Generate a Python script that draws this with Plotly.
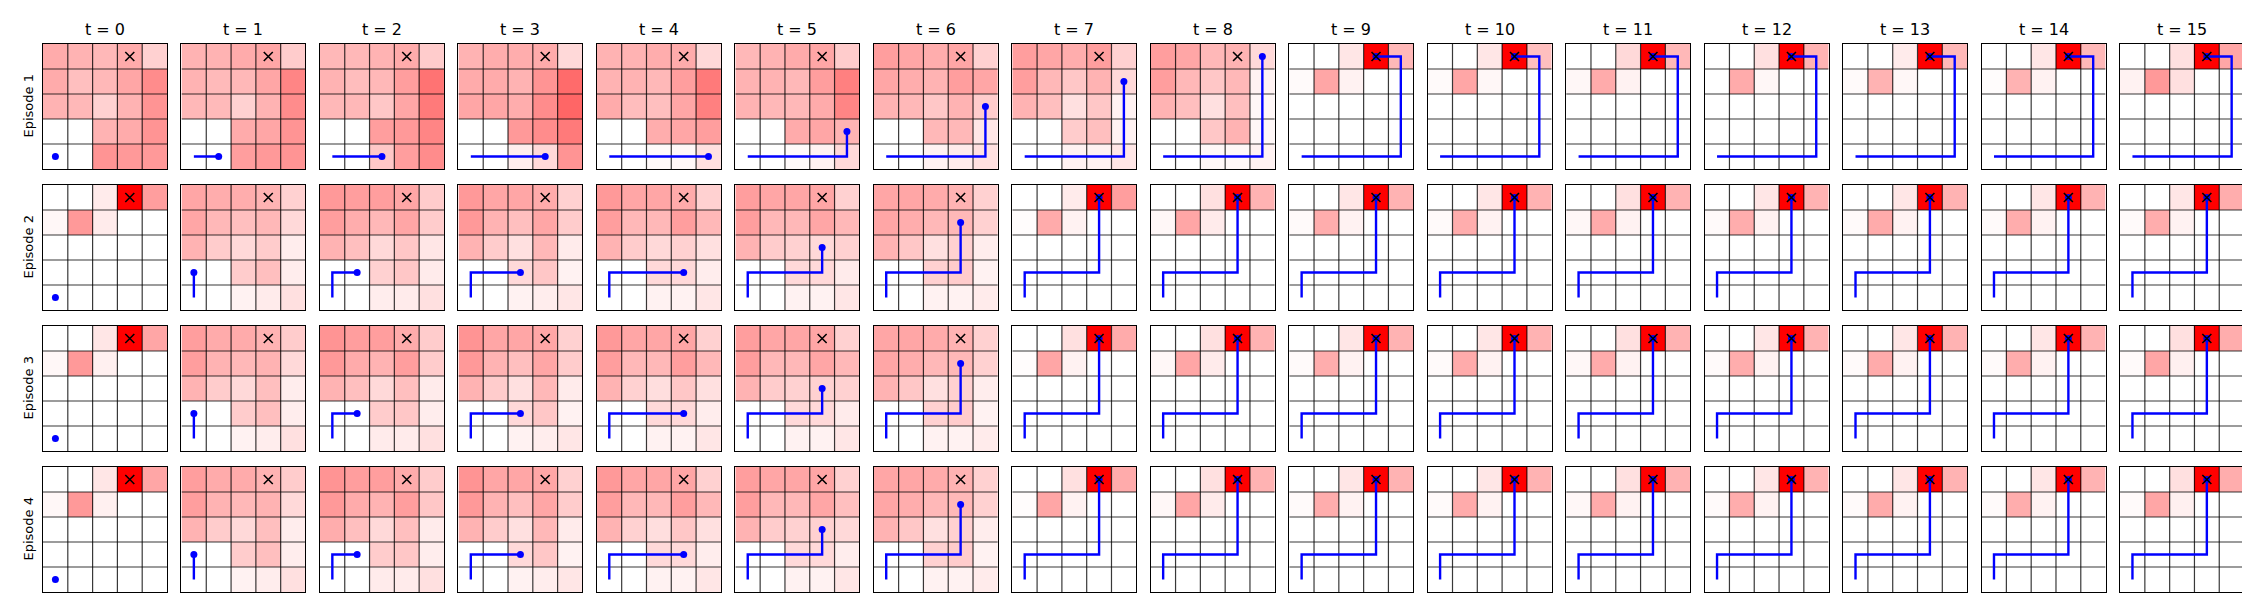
import plotly.graph_objects as go

# ---------------- data ----------------
TITLES = [f"t = {t}" for t in range(16)]
ROW_LABELS = ["Episode 1", "Episode 2", "Episode 3", "Episode 4"]
GOAL_COL, GOAL_ROW = 3, 0

# agent positions (column, row from top) at each time step
EP1_COLS = [0, 1, 2, 3, 4, 4, 4, 4, 4, 3, 3, 3, 3, 3, 3, 3]
EP1_ROWS = [4, 4, 4, 4, 4, 3, 2, 1, 0, 0, 0, 0, 0, 0, 0, 0]
EP2_COLS = [0, 0, 1, 2, 3, 3, 3, 3, 3, 3, 3, 3, 3, 3, 3, 3]
EP2_ROWS = [4, 3, 3, 3, 3, 2, 1, 0, 0, 0, 0, 0, 0, 0, 0, 0]
EP3_COLS = [0, 0, 1, 2, 3, 3, 3, 3, 3, 3, 3, 3, 3, 3, 3, 3]
EP3_ROWS = [4, 3, 3, 3, 3, 2, 1, 0, 0, 0, 0, 0, 0, 0, 0, 0]
EP4_COLS = [0, 0, 1, 2, 3, 3, 3, 3, 3, 3, 3, 3, 3, 3, 3, 3]
EP4_ROWS = [4, 3, 3, 3, 3, 2, 1, 0, 0, 0, 0, 0, 0, 0, 0, 0]

EP1_HEAT = [
    [[0.33, 0.30, 0.28, 0.33, 0.18], [0.33, 0.25, 0.28, 0.35, 0.45], [0.30, 0.28, 0.18, 0.30, 0.42], [0, 0, 0.30, 0.33, 0.42], [0, 0, 0.42, 0.40, 0.40]],
    [[0.30, 0.30, 0.33, 0.35, 0.20], [0.30, 0.27, 0.28, 0.35, 0.48], [0.28, 0.27, 0.18, 0.30, 0.45], [0, 0, 0.33, 0.35, 0.42], [0, 0, 0.38, 0.40, 0.42]],
    [[0.28, 0.28, 0.30, 0.33, 0.20], [0.30, 0.26, 0.28, 0.38, 0.55], [0.28, 0.28, 0.22, 0.35, 0.52], [0, 0, 0.38, 0.40, 0.48], [0, 0, 0.22, 0.38, 0.45]],
    [[0.30, 0.32, 0.32, 0.33, 0.15], [0.33, 0.33, 0.30, 0.42, 0.58], [0.35, 0.35, 0.32, 0.45, 0.60], [0, 0, 0.40, 0.45, 0.52], [0, 0, 0.07, 0.15, 0.42]],
    [[0.30, 0.30, 0.32, 0.33, 0.15], [0.30, 0.30, 0.28, 0.38, 0.52], [0.33, 0.26, 0.25, 0.35, 0.50], [0, 0, 0.32, 0.35, 0.38], [0, 0, 0.02, 0.03, 0.12]],
    [[0.28, 0.30, 0.33, 0.35, 0.20], [0.30, 0.30, 0.28, 0.38, 0.50], [0.30, 0.28, 0.28, 0.33, 0.48], [0, 0, 0.33, 0.35, 0.30], [0, 0, 0.02, 0.05, 0.15]],
    [[0.38, 0.35, 0.32, 0.35, 0.18], [0.35, 0.32, 0.30, 0.38, 0.35], [0.30, 0.28, 0.22, 0.30, 0.20], [0, 0, 0.28, 0.28, 0.10], [0, 0, 0.05, 0.08, 0.12]],
    [[0.38, 0.35, 0.32, 0.38, 0.18], [0.38, 0.28, 0.22, 0.30, 0.15], [0.30, 0.25, 0.12, 0.22, 0.05], [0, 0, 0.20, 0.25, 0.05], [0, 0, 0.05, 0.05, 0.10]],
    [[0.38, 0.35, 0.28, 0.30, 0.15], [0.38, 0.28, 0.22, 0.28, 0.05], [0.30, 0.25, 0.12, 0.25, 0.03], [0, 0, 0.22, 0.30, 0.03], [0, 0, 0.03, 0.03, 0.05]],
    [[0, 0, 0.10, 1.0, 0.28], [0.02, 0.35, 0.05, 0, 0], [0, 0, 0, 0, 0], [0, 0, 0, 0, 0], [0, 0, 0, 0, 0]],
    [[0, 0, 0.10, 1.0, 0.25], [0.02, 0.35, 0.03, 0, 0], [0, 0, 0, 0, 0], [0, 0, 0, 0, 0], [0, 0, 0, 0, 0]],
    [[0, 0, 0.15, 1.0, 0.28], [0.03, 0.33, 0.05, 0, 0], [0, 0, 0, 0, 0], [0, 0, 0, 0, 0], [0, 0, 0, 0, 0]],
    [[0, 0, 0.12, 1.0, 0.30], [0.00, 0.33, 0.03, 0, 0], [0, 0, 0, 0, 0], [0, 0, 0, 0, 0], [0, 0, 0, 0, 0]],
    [[0, 0, 0.08, 1.0, 0.28], [0.02, 0.30, 0.03, 0, 0], [0, 0, 0, 0, 0], [0, 0, 0, 0, 0], [0, 0, 0, 0, 0]],
    [[0, 0, 0.10, 1.0, 0.28], [0.01, 0.30, 0.05, 0, 0], [0, 0, 0, 0, 0], [0, 0, 0, 0, 0], [0, 0, 0, 0, 0]],
    [[0, 0, 0.12, 1.0, 0.35], [0.05, 0.40, 0.12, 0, 0], [0, 0, 0, 0, 0], [0, 0, 0, 0, 0], [0, 0, 0, 0, 0]],
]

EP2_HEAT = [
    [[0, 0, 0.08, 1.0, 0.38], [0.03, 0.40, 0.08, 0, 0], [0, 0, 0, 0, 0], [0, 0, 0, 0, 0], [0, 0, 0, 0, 0]],
    [[0.35, 0.32, 0.32, 0.30, 0.18], [0.35, 0.28, 0.25, 0.28, 0.15], [0.30, 0.20, 0.15, 0.20, 0.07], [0, 0, 0.20, 0.25, 0.07], [0, 0, 0.05, 0.08, 0.12]],
    [[0.40, 0.38, 0.38, 0.35, 0.20], [0.38, 0.32, 0.28, 0.35, 0.20], [0.30, 0.25, 0.15, 0.22, 0.10], [0, 0, 0.18, 0.22, 0.08], [0, 0, 0.07, 0.08, 0.12]],
    [[0.40, 0.35, 0.35, 0.33, 0.18], [0.40, 0.30, 0.25, 0.35, 0.20], [0.30, 0.20, 0.12, 0.28, 0.08], [0, 0, 0.15, 0.22, 0.05], [0, 0, 0.05, 0.07, 0.10]],
    [[0.40, 0.35, 0.35, 0.33, 0.18], [0.38, 0.28, 0.28, 0.38, 0.28], [0.30, 0.20, 0.15, 0.18, 0.12], [0, 0, 0.15, 0.15, 0.07], [0, 0, 0.05, 0.05, 0.10]],
    [[0.38, 0.35, 0.35, 0.35, 0.18], [0.38, 0.28, 0.28, 0.35, 0.28], [0.30, 0.20, 0.18, 0.15, 0.18], [0, 0, 0.15, 0.15, 0.08], [0, 0, 0.05, 0.05, 0.10]],
    [[0.35, 0.35, 0.33, 0.30, 0.18], [0.35, 0.32, 0.28, 0.28, 0.18], [0.30, 0.22, 0.12, 0.18, 0.07], [0, 0, 0.18, 0.20, 0.05], [0, 0, 0.05, 0.05, 0.08]],
    [[0, 0, 0.08, 1.0, 0.38], [0.01, 0.33, 0.05, 0, 0], [0, 0, 0, 0, 0], [0, 0, 0, 0, 0], [0, 0, 0, 0, 0]],
    [[0, 0, 0.12, 1.0, 0.30], [0.03, 0.35, 0.08, 0, 0], [0, 0, 0, 0, 0], [0, 0, 0, 0, 0], [0, 0, 0, 0, 0]],
    [[0, 0, 0.10, 1.0, 0.30], [0.02, 0.32, 0.05, 0, 0], [0, 0, 0, 0, 0], [0, 0, 0, 0, 0], [0, 0, 0, 0, 0]],
    [[0, 0, 0.10, 1.0, 0.30], [0.02, 0.32, 0.05, 0, 0], [0, 0, 0, 0, 0], [0, 0, 0, 0, 0], [0, 0, 0, 0, 0]],
    [[0, 0, 0.12, 1.0, 0.30], [0.03, 0.33, 0.05, 0, 0], [0, 0, 0, 0, 0], [0, 0, 0, 0, 0], [0, 0, 0, 0, 0]],
    [[0, 0, 0.10, 1.0, 0.30], [0.02, 0.32, 0.05, 0, 0], [0, 0, 0, 0, 0], [0, 0, 0, 0, 0], [0, 0, 0, 0, 0]],
    [[0, 0, 0.10, 1.0, 0.30], [0.02, 0.33, 0.05, 0, 0], [0, 0, 0, 0, 0], [0, 0, 0, 0, 0], [0, 0, 0, 0, 0]],
    [[0, 0, 0.10, 1.0, 0.30], [0.02, 0.32, 0.05, 0, 0], [0, 0, 0, 0, 0], [0, 0, 0, 0, 0], [0, 0, 0, 0, 0]],
    [[0, 0, 0.10, 1.0, 0.32], [0.02, 0.32, 0.05, 0, 0], [0, 0, 0, 0, 0], [0, 0, 0, 0, 0], [0, 0, 0, 0, 0]],
]

EP3_HEAT = [
    [[0, 0, 0.10, 1.0, 0.35], [0.03, 0.40, 0.06, 0, 0], [0, 0, 0, 0, 0], [0, 0, 0, 0, 0], [0, 0, 0, 0, 0]],
    [[0.38, 0.33, 0.33, 0.30, 0.20], [0.38, 0.30, 0.28, 0.30, 0.15], [0.30, 0.20, 0.15, 0.25, 0.07], [0, 0, 0.20, 0.25, 0.07], [0, 0, 0.05, 0.07, 0.12]],
    [[0.42, 0.38, 0.38, 0.33, 0.20], [0.40, 0.33, 0.30, 0.38, 0.20], [0.30, 0.25, 0.15, 0.25, 0.08], [0, 0, 0.20, 0.22, 0.07], [0, 0, 0.08, 0.08, 0.12]],
    [[0.42, 0.35, 0.35, 0.35, 0.18], [0.40, 0.30, 0.25, 0.35, 0.20], [0.30, 0.20, 0.12, 0.28, 0.08], [0, 0, 0.15, 0.22, 0.05], [0, 0, 0.05, 0.07, 0.10]],
    [[0.40, 0.35, 0.35, 0.35, 0.18], [0.38, 0.28, 0.28, 0.38, 0.28], [0.30, 0.18, 0.13, 0.22, 0.12], [0, 0, 0.15, 0.15, 0.07], [0, 0, 0.05, 0.05, 0.10]],
    [[0.38, 0.35, 0.35, 0.35, 0.18], [0.38, 0.28, 0.28, 0.35, 0.28], [0.30, 0.20, 0.18, 0.18, 0.18], [0, 0, 0.15, 0.15, 0.08], [0, 0, 0.05, 0.05, 0.10]],
    [[0.35, 0.35, 0.33, 0.30, 0.18], [0.35, 0.32, 0.28, 0.28, 0.18], [0.30, 0.22, 0.12, 0.18, 0.07], [0, 0, 0.18, 0.20, 0.05], [0, 0, 0.05, 0.05, 0.08]],
    [[0, 0, 0.12, 1.0, 0.33], [0.01, 0.35, 0.05, 0, 0], [0, 0, 0, 0, 0], [0, 0, 0, 0, 0], [0, 0, 0, 0, 0]],
    [[0, 0, 0.12, 1.0, 0.30], [0.03, 0.35, 0.08, 0, 0], [0, 0, 0, 0, 0], [0, 0, 0, 0, 0], [0, 0, 0, 0, 0]],
    [[0, 0, 0.10, 1.0, 0.30], [0.02, 0.32, 0.05, 0, 0], [0, 0, 0, 0, 0], [0, 0, 0, 0, 0], [0, 0, 0, 0, 0]],
    [[0, 0, 0.10, 1.0, 0.30], [0.02, 0.33, 0.05, 0, 0], [0, 0, 0, 0, 0], [0, 0, 0, 0, 0], [0, 0, 0, 0, 0]],
    [[0, 0, 0.12, 1.0, 0.30], [0.03, 0.33, 0.05, 0, 0], [0, 0, 0, 0, 0], [0, 0, 0, 0, 0], [0, 0, 0, 0, 0]],
    [[0, 0, 0.10, 1.0, 0.30], [0.02, 0.32, 0.05, 0, 0], [0, 0, 0, 0, 0], [0, 0, 0, 0, 0], [0, 0, 0, 0, 0]],
    [[0, 0, 0.10, 1.0, 0.30], [0.02, 0.33, 0.05, 0, 0], [0, 0, 0, 0, 0], [0, 0, 0, 0, 0], [0, 0, 0, 0, 0]],
    [[0, 0, 0.10, 1.0, 0.30], [0.02, 0.32, 0.05, 0, 0], [0, 0, 0, 0, 0], [0, 0, 0, 0, 0], [0, 0, 0, 0, 0]],
    [[0, 0, 0.12, 1.0, 0.32], [0.02, 0.35, 0.06, 0, 0], [0, 0, 0, 0, 0], [0, 0, 0, 0, 0], [0, 0, 0, 0, 0]],
]

EP4_HEAT = [
    [[0, 0, 0.10, 1.0, 0.35], [0.03, 0.40, 0.06, 0, 0], [0, 0, 0, 0, 0], [0, 0, 0, 0, 0], [0, 0, 0, 0, 0]],
    [[0.38, 0.33, 0.33, 0.30, 0.20], [0.38, 0.30, 0.28, 0.30, 0.15], [0.30, 0.20, 0.15, 0.25, 0.07], [0, 0, 0.20, 0.25, 0.07], [0, 0, 0.05, 0.07, 0.12]],
    [[0.42, 0.38, 0.38, 0.33, 0.20], [0.40, 0.33, 0.30, 0.38, 0.22], [0.32, 0.25, 0.15, 0.25, 0.08], [0, 0, 0.20, 0.22, 0.07], [0, 0, 0.08, 0.08, 0.12]],
    [[0.42, 0.35, 0.35, 0.35, 0.18], [0.40, 0.30, 0.25, 0.35, 0.20], [0.30, 0.20, 0.12, 0.28, 0.08], [0, 0, 0.15, 0.22, 0.05], [0, 0, 0.05, 0.07, 0.10]],
    [[0.40, 0.35, 0.35, 0.35, 0.18], [0.38, 0.28, 0.28, 0.38, 0.28], [0.30, 0.18, 0.13, 0.22, 0.12], [0, 0, 0.15, 0.15, 0.07], [0, 0, 0.05, 0.05, 0.10]],
    [[0.38, 0.35, 0.35, 0.35, 0.18], [0.38, 0.28, 0.28, 0.35, 0.25], [0.30, 0.20, 0.18, 0.18, 0.15], [0, 0, 0.15, 0.15, 0.07], [0, 0, 0.05, 0.05, 0.10]],
    [[0.35, 0.35, 0.33, 0.30, 0.18], [0.35, 0.32, 0.28, 0.28, 0.18], [0.30, 0.22, 0.12, 0.18, 0.07], [0, 0, 0.18, 0.20, 0.05], [0, 0, 0.05, 0.05, 0.08]],
    [[0, 0, 0.12, 1.0, 0.33], [0.01, 0.35, 0.05, 0, 0], [0, 0, 0, 0, 0], [0, 0, 0, 0, 0], [0, 0, 0, 0, 0]],
    [[0, 0, 0.12, 1.0, 0.30], [0.03, 0.35, 0.08, 0, 0], [0, 0, 0, 0, 0], [0, 0, 0, 0, 0], [0, 0, 0, 0, 0]],
    [[0, 0, 0.10, 1.0, 0.30], [0.02, 0.32, 0.05, 0, 0], [0, 0, 0, 0, 0], [0, 0, 0, 0, 0], [0, 0, 0, 0, 0]],
    [[0, 0, 0.10, 1.0, 0.30], [0.02, 0.33, 0.05, 0, 0], [0, 0, 0, 0, 0], [0, 0, 0, 0, 0], [0, 0, 0, 0, 0]],
    [[0, 0, 0.12, 1.0, 0.30], [0.03, 0.33, 0.05, 0, 0], [0, 0, 0, 0, 0], [0, 0, 0, 0, 0], [0, 0, 0, 0, 0]],
    [[0, 0, 0.10, 1.0, 0.30], [0.02, 0.32, 0.05, 0, 0], [0, 0, 0, 0, 0], [0, 0, 0, 0, 0], [0, 0, 0, 0, 0]],
    [[0, 0, 0.10, 1.0, 0.30], [0.02, 0.33, 0.05, 0, 0], [0, 0, 0, 0, 0], [0, 0, 0, 0, 0], [0, 0, 0, 0, 0]],
    [[0, 0, 0.10, 1.0, 0.30], [0.02, 0.32, 0.05, 0, 0], [0, 0, 0, 0, 0], [0, 0, 0, 0, 0], [0, 0, 0, 0, 0]],
    [[0, 0, 0.12, 1.0, 0.32], [0.02, 0.35, 0.06, 0, 0], [0, 0, 0, 0, 0], [0, 0, 0, 0, 0], [0, 0, 0, 0, 0]],
]

HEATS = [EP1_HEAT, EP2_HEAT, EP3_HEAT, EP4_HEAT]
PATH_COLS = [EP1_COLS, EP2_COLS, EP3_COLS, EP4_COLS]
PATH_ROWS = [EP1_ROWS, EP2_ROWS, EP3_ROWS, EP4_ROWS]

# ---------------- layout constants ----------------
W, H = 2250, 600
LEFT0, COL_STEP, PW = 35.0, 138.47, 124.0
TOP0, ROW_STEP, PH = 36.0, 141.0, 125.0
FONT = "DejaVu Sans"

fig = go.Figure()
layout = dict(
    width=W, height=H, margin=dict(l=0, r=0, t=0, b=0),
    paper_bgcolor="white", plot_bgcolor="white", showlegend=False,
)
annotations = []

grid_x, grid_y = [], []
for v in [0.5, 1.5, 2.5, 3.5]:
    grid_x += [v, v, None]
    grid_y += [-0.5, 4.5, None]
    grid_x += [-0.5, 4.5, None]
    grid_y += [v, v, None]

for r in range(4):
    for c in range(16):
        k = r * 16 + c + 1
        xa = "x" if k == 1 else f"x{k}"
        ya = "y" if k == 1 else f"y{k}"
        left = LEFT0 + c * COL_STEP
        top = TOP0 + r * ROW_STEP
        layout["xaxis" if k == 1 else f"xaxis{k}"] = dict(
            domain=[left / W, (left + PW) / W], range=[-0.5, 4.5],
            showticklabels=False, ticks="", showgrid=False, zeroline=False,
            showline=True, mirror=True, linecolor="black", linewidth=1.3,
            anchor=ya, fixedrange=True,
        )
        layout["yaxis" if k == 1 else f"yaxis{k}"] = dict(
            domain=[1 - (top + PH) / H, 1 - top / H], range=[4.5, -0.5],
            showticklabels=False, ticks="", showgrid=False, zeroline=False,
            showline=True, mirror=True, linecolor="black", linewidth=1.3,
            anchor=xa, fixedrange=True,
        )
        fig.add_trace(go.Heatmap(
            z=HEATS[r][c], x=[0, 1, 2, 3, 4], y=[0, 1, 2, 3, 4],
            colorscale=[[0, "#ffffff"], [1, "#ff0000"]], zmin=0, zmax=1,
            showscale=False, xaxis=xa, yaxis=ya, hoverinfo="skip",
        ))
        fig.add_trace(go.Scatter(
            x=grid_x, y=grid_y, mode="lines",
            line=dict(color="rgba(0,0,0,0.78)", width=1.2),
            xaxis=xa, yaxis=ya, hoverinfo="skip",
        ))
        pc = PATH_COLS[r][: c + 1]
        pr = PATH_ROWS[r][: c + 1]
        if c > 0:
            fig.add_trace(go.Scatter(
                x=pc, y=pr, mode="lines",
                line=dict(color="#0000ff", width=2.4),
                xaxis=xa, yaxis=ya, hoverinfo="skip",
            ))
        fig.add_trace(go.Scatter(
            x=[pc[-1]], y=[pr[-1]], mode="markers",
            marker=dict(color="#0000ff", size=7),
            xaxis=xa, yaxis=ya, hoverinfo="skip",
        ))
        fig.add_trace(go.Scatter(
            x=[GOAL_COL], y=[GOAL_ROW], mode="markers",
            marker=dict(symbol="x-thin", size=9, color="black",
                        line=dict(color="black", width=1.6)),
            xaxis=xa, yaxis=ya, hoverinfo="skip",
        ))
        if r == 0:
            annotations.append(dict(
                text=TITLES[c], x=(left + PW / 2) / W, y=1 - 22 / H,
                xref="paper", yref="paper", showarrow=False,
                xanchor="center", yanchor="middle",
                font=dict(family=FONT, size=16, color="black"),
            ))
    annotations.append(dict(
        text=ROW_LABELS[r], x=20 / W, y=1 - (TOP0 + r * ROW_STEP + PH / 2) / H,
        xref="paper", yref="paper", showarrow=False, textangle=-90,
        xanchor="center", yanchor="middle",
        font=dict(family=FONT, size=13, color="black"),
    ))

layout["annotations"] = annotations
fig.update_layout(**layout)
fig.write_html("out.html")
